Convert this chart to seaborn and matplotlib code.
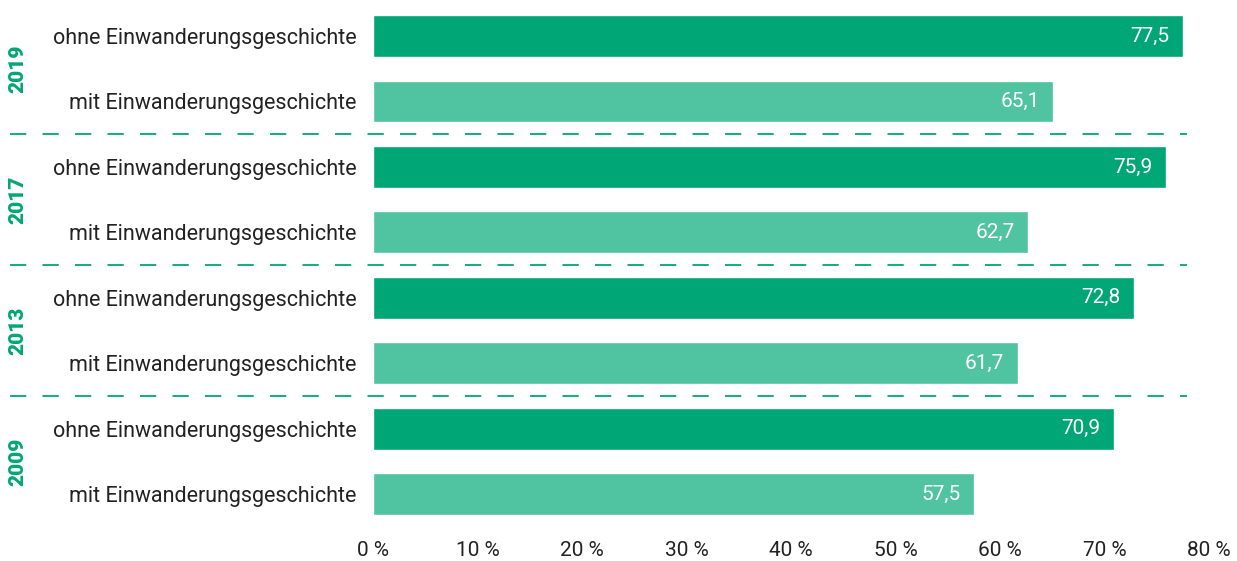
import matplotlib
matplotlib.use("Agg")
import matplotlib.pyplot as plt
import seaborn as sns
import pandas as pd
import matplotlib.transforms as mtransforms

# data
years = ["2019", "2017", "2013", "2009"]
groups = ["ohne Einwanderungsgeschichte", "mit Einwanderungsgeschichte"]
ohne = [77.5, 75.9, 72.8, 70.9]
mit = [65.1, 62.7, 61.7, 57.5]
x_ticks = [0, 10, 20, 30, 40, 50, 60, 70, 80]

dark = "#00A676"
light = "#50C3A0"

rows = []
for i, y in enumerate(years):
    rows.append({"row": y + " ohne", "label": groups[0], "typ": "ohne", "wert": ohne[i]})
    rows.append({"row": y + " mit", "label": groups[1], "typ": "mit", "wert": mit[i]})
df = pd.DataFrame(rows)

sns.set_style("white")
plt.rcParams["font.family"] = ["Roboto", "DejaVu Sans"]

fig = plt.figure(figsize=(12.37, 5.61), dpi=100)
ax = fig.add_axes([373 / 1237, 1 - 527 / 561, (1209 - 373) / 1237, (527 - 3.3) / 561])

sns.barplot(data=df, x="wert", y="row", hue="typ", palette={"ohne": dark, "mit": light},
            dodge=False, orient="h", width=0.64, saturation=1, ax=ax, legend=False)

ax.set_xlim(0, 80)
ax.set_ylim(7.5, -0.5)
ax.set_xlabel("")
ax.set_ylabel("")
ax.set_xticks(x_ticks)
ax.set_xticklabels([f"{t} %" for t in x_ticks], fontsize=15, color="#222222")
ax.set_yticks(range(len(df)))
ax.set_yticklabels(df["label"], fontsize=15.5, color="#222222")
ax.tick_params(axis="x", length=0, pad=10)
ax.tick_params(axis="y", length=0, pad=12)
for s in ax.spines.values():
    s.set_visible(False)

# value labels
for i, v in enumerate(df["wert"]):
    ax.text(v - 1.3, i, f"{v:.1f}".replace(".", ","), ha="right", va="center",
            color="white", fontsize=15)

# separators between years
trans = mtransforms.blended_transform_factory(fig.transFigure, ax.transData)
for yy in [1.5, 3.5, 5.5]:
    ax.plot([10 / 1237, 1187 / 1237], [yy, yy], transform=trans, color=dark,
            lw=1.3, dashes=(9, 9), clip_on=False)

# year labels
for i, y in enumerate(years):
    ax.text(18 / 1237, 2 * i + 0.5, y, transform=trans, rotation=90, ha="center",
            va="center", color=dark, fontsize=15, fontweight="heavy")

fig.savefig("out.png", dpi=100)
